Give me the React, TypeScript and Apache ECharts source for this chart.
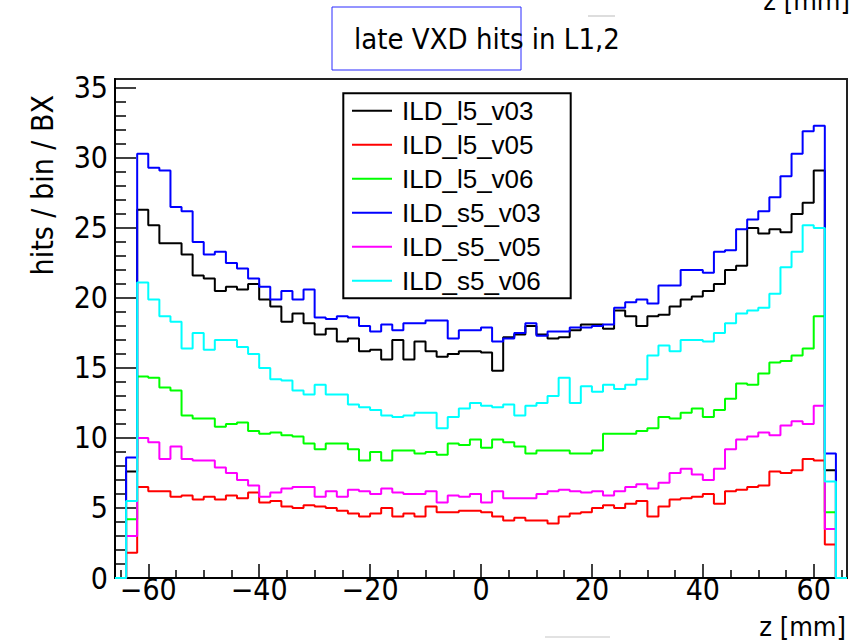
import React, { useEffect, useRef } from "react";
import * as echarts from "echarts";

// ---- histogram binning (z in mm) ----
const BIN_LOW = -66;
const BIN_WIDTH = 2;

// ---- bin contents (hits / bin / BX), from z = -66 to 66 ----
const ILD_l5_v03 = [0,
  7.6, 26.3, 25.2, 23.9, 23.9, 23.1, 21.6, 21.4, 20.5, 20.8,
  20.6, 21.0, 19.9, 19.4, 18.3, 18.9, 18.2, 17.4, 17.8, 16.9,
  17.1, 16.2, 16.3, 15.6, 17.0, 15.6, 16.9, 16.2, 15.8, 16.0,
  16.2, 16.2, 16.1, 14.8, 17.2, 17.4, 18.0, 17.4, 17.1, 17.2,
  17.7, 18.1, 18.1, 17.8, 19.1, 18.7, 18.0, 18.7, 18.8, 19.4,
  19.9, 20.1, 20.5, 21.0, 22.0, 22.3, 25.0, 24.6, 24.9, 24.7,
  26.0, 26.8, 29.1, 7.7,
  0];
const ILD_l5_v05 = [0,
  1.8, 6.5, 6.2, 6.2, 5.8, 5.9, 5.6, 5.8, 5.6, 5.9,
  5.7, 6.1, 5.4, 5.5, 5.1, 5.0, 5.2, 5.1, 5.0, 4.8,
  4.6, 4.4, 4.6, 5.0, 4.4, 4.6, 4.4, 5.1, 4.7, 4.7,
  4.8, 4.8, 4.7, 4.4, 4.1, 4.3, 4.1, 4.1, 3.9, 4.4,
  4.6, 4.7, 5.0, 5.2, 5.0, 5.3, 5.5, 4.4, 5.1, 5.6,
  5.7, 5.8, 6.0, 5.3, 6.2, 6.3, 6.5, 6.6, 7.6, 7.5,
  7.7, 8.5, 8.4, 2.4,
  0];
const ILD_l5_v06 = [0,
  4.2, 14.4, 14.3, 13.6, 13.4, 11.6, 11.4, 11.4, 10.8, 11.0,
  11.1, 10.5, 10.3, 10.4, 10.2, 10.1, 9.6, 9.2, 9.6, 9.6,
  9.2, 8.4, 9.0, 8.4, 9.1, 9.1, 8.9, 9.0, 8.8, 9.6,
  9.5, 9.9, 9.3, 9.9, 9.7, 9.4, 8.9, 9.1, 9.1, 9.1,
  8.9, 8.9, 9.1, 10.3, 10.3, 10.3, 10.5, 10.7, 11.5, 11.4,
  11.8, 12.1, 11.5, 12.0, 12.8, 13.9, 13.8, 14.6, 15.4, 15.5,
  15.9, 16.4, 18.7, 4.7,
  0];
const ILD_s5_v03 = [0,
  8.6, 30.3, 29.3, 29.1, 26.5, 26.2, 24.0, 23.1, 23.3, 22.5,
  22.1, 21.4, 20.8, 19.9, 20.5, 19.9, 20.6, 18.6, 18.5, 18.7,
  18.6, 18.0, 17.6, 18.1, 17.7, 18.2, 18.2, 18.4, 18.4, 17.1,
  17.7, 17.7, 17.9, 16.9, 17.1, 17.5, 18.2, 17.3, 17.6, 17.6,
  17.9, 17.9, 18.0, 18.1, 19.3, 19.7, 19.9, 19.6, 20.9, 20.9,
  22.0, 22.0, 21.8, 23.3, 23.4, 24.9, 25.6, 26.2, 27.2, 28.7,
  30.3, 31.9, 32.3, 8.9,
  0];
const ILD_s5_v05 = [0,
  3.0, 10.0, 9.7, 8.5, 9.4, 8.5, 8.4, 8.4, 7.9, 7.5,
  7.0, 6.6, 5.8, 6.1, 6.4, 6.5, 6.5, 5.8, 6.2, 5.8,
  6.3, 6.2, 6.0, 6.4, 6.1, 6.0, 6.0, 6.2, 5.4, 5.9,
  5.8, 6.0, 5.4, 6.2, 5.7, 5.7, 5.7, 6.0, 6.2, 6.3,
  6.2, 6.1, 6.2, 5.9, 6.2, 6.5, 6.7, 6.4, 6.8, 7.5,
  7.8, 7.4, 7.0, 7.8, 9.2, 9.9, 10.1, 10.4, 10.2, 10.9,
  11.2, 11.0, 12.3, 3.5,
  0];
const ILD_s5_v06 = [0,
  5.5, 21.1, 19.9, 18.7, 18.3, 16.4, 17.5, 16.3, 17.0, 17.0,
  16.5, 16.0, 15.0, 14.2, 14.1, 13.4, 13.1, 13.8, 13.1, 13.1,
  12.4, 12.2, 12.0, 11.6, 11.5, 11.6, 11.8, 11.8, 10.7, 11.5,
  12.1, 12.5, 12.3, 12.2, 12.4, 11.6, 12.3, 12.5, 13.0, 14.3,
  12.5, 13.7, 13.3, 13.8, 13.5, 13.8, 14.2, 15.9, 16.6, 16.2,
  17.0, 17.0, 16.9, 17.5, 18.2, 18.9, 19.1, 19.3, 20.3, 22.2,
  23.3, 25.2, 25.0, 6.9,
  0];

const SERIES_NAMES = ["ILD_l5_v03", "ILD_l5_v05", "ILD_l5_v06", "ILD_s5_v03", "ILD_s5_v05", "ILD_s5_v06"];
const SERIES_VALUES = [ILD_l5_v03, ILD_l5_v05, ILD_l5_v06, ILD_s5_v03, ILD_s5_v05, ILD_s5_v06];

// ---- axis ticks ----
const X_MIN = -66;
const X_MAX = 66;
const X_MAJOR = [-60, -40, -20, 0, 20, 40, 60];
const X_MINOR = [-65, -55, -50, -45, -35, -30, -25, -15, -10, -5, 5, 10, 15, 25, 30, 35, 45, 50, 55, 65];
const Y_MIN = 0;
const Y_MAX = 35.64;
const Y_MAJOR = [0, 5, 10, 15, 20, 25, 30, 35];
const Y_MINOR = [1, 2, 3, 4, 6, 7, 8, 9, 11, 12, 13, 14, 16, 17, 18, 19, 21, 22, 23, 24, 26, 27, 28, 29, 31, 32, 33, 34];

const TITLE = "late VXD hits in L1,2";
const X_TITLE = "z [mm]";
const Y_TITLE = "hits / bin / BX";

// ---- styles ----
const COLORS = ["#000000", "#ff0000", "#00ff00", "#0000ff", "#ff00ff", "#00ffff"];
const NARROW = '"Liberation Sans Narrow", "Arial Narrow", "DejaVu Sans Condensed", "Liberation Sans", sans-serif';
const SANS = '"Liberation Sans", Arial, Helvetica, sans-serif';

function toSteps(vals: number[]) {
  const pts: number[][] = vals.map((v, i) => [BIN_LOW + i * BIN_WIDTH, v]);
  pts.push([BIN_LOW + vals.length * BIN_WIDTH, vals[vals.length - 1]]);
  return pts;
}

const fmtX = (v: number) => (v < 0 ? "\u2212" + Math.abs(v) : String(v));

function buildOption(): any {
  const grid = { left: 115, top: 79, width: 732, height: 499 };
  const tickStyle = { color: "#000", width: 1.5 };
  return {
    animation: false,
    backgroundColor: "#ffffff",
    grid: { ...grid, show: true, borderColor: "#222", borderWidth: 2, backgroundColor: "transparent" },
    xAxis: [
      {
        type: "value", min: X_MIN, max: X_MAX, position: "bottom",
        axisLine: { onZero: false, lineStyle: { color: "#000", width: 2 } },
        splitLine: { show: false },
        axisTick: { inside: true, length: 14, customValues: X_MAJOR, lineStyle: tickStyle },
        axisLabel: { customValues: X_MAJOR, formatter: fmtX, fontFamily: NARROW, fontSize: 30, color: "#000", margin: -4 },
      },
      {
        type: "value", min: X_MIN, max: X_MAX, position: "bottom", offset: 0,
        axisLine: { show: false, onZero: false },
        splitLine: { show: false },
        axisTick: { inside: true, length: 8, customValues: X_MINOR, lineStyle: tickStyle },
        axisLabel: { show: false, customValues: X_MINOR },
      },
    ],
    yAxis: [
      {
        type: "value", min: Y_MIN, max: Y_MAX, position: "left",
        axisLine: { show: true, onZero: false, lineStyle: { color: "#000", width: 2 } },
        splitLine: { show: false },
        axisTick: { show: true, inside: true, length: 21, customValues: Y_MAJOR, lineStyle: tickStyle },
        axisLabel: { customValues: Y_MAJOR, fontFamily: NARROW, fontSize: 30, color: "#000", margin: 7 },
      },
      {
        type: "value", min: Y_MIN, max: Y_MAX, position: "left", offset: 0,
        axisLine: { show: false, onZero: false },
        splitLine: { show: false },
        axisTick: { show: true, inside: true, length: 11, customValues: Y_MINOR, lineStyle: tickStyle },
        axisLabel: { show: false, customValues: Y_MINOR },
      },
    ],
    legend: {
      orient: "vertical", left: 352, top: 97.7, padding: 0,
      icon: "rect", itemWidth: 40, itemHeight: 2, itemGap: 8,
      selectedMode: false,
      data: SERIES_NAMES,
      textStyle: { fontFamily: SANS, fontSize: 26, lineHeight: 26, color: "#000", padding: [0, 0, 0, 5] },
    },
    series: SERIES_NAMES.map((name, i) => ({
      name, type: "line", step: "end",
      xAxisIndex: 0, yAxisIndex: 0,
      data: toSteps(SERIES_VALUES[i]),
      symbol: "none", showSymbol: false,
      lineStyle: { color: COLORS[i], width: 2 },
      itemStyle: { color: COLORS[i] },
      emphasis: { disabled: true },
      silent: true,
    })),
    graphic: [
      { type: "rect", z: 0, shape: { x: 343.3, y: 93.3, width: 227.4, height: 205 }, style: { fill: "#ffffff", stroke: "#000", lineWidth: 2 } },
      { type: "rect", z: 10, shape: { x: 332, y: 7, width: 189, height: 63 }, style: { fill: "none", stroke: "#2a2aff", lineWidth: 1 } },
      { type: "text", z: 10, x: 354, y: 39, style: { text: TITLE, font: `29px ${NARROW}`, fill: "#000", align: "left", verticalAlign: "middle" } },
      { type: "line", z: 10, shape: { x1: 588, y1: 16, x2: 615, y2: 16 }, style: { stroke: "#dddddd", lineWidth: 2 } },
      { type: "line", z: 10, shape: { x1: 545, y1: 637, x2: 610, y2: 637 }, style: { stroke: "#e2e2e2", lineWidth: 2 } },
      { type: "text", z: 10, x: 850, y: 0, style: { text: X_TITLE, font: `27px ${NARROW}`, fill: "#000", align: "right", verticalAlign: "middle" } },
      { type: "text", z: 10, x: 846, y: 626, style: { text: X_TITLE, font: `27px ${NARROW}`, fill: "#000", align: "right", verticalAlign: "middle" } },
      { type: "text", z: 10, x: 42, y: 95, rotation: Math.PI / 2, style: { text: Y_TITLE, font: `30px ${NARROW}`, fill: "#000", align: "right", verticalAlign: "middle" } },
    ],
  };
}

export default function App() {
  const ref = useRef<HTMLDivElement>(null);
  useEffect(() => {
    if (!ref.current) return;
    const chart = echarts.init(ref.current, null, { renderer: "svg" });
    chart.setOption(buildOption());
    return () => chart.dispose();
  }, []);
  return (
    <div
      ref={ref}
      style={{ position: "fixed", left: 0, top: 0, width: 862, height: 642, background: "#ffffff" }}
    />
  );
}
